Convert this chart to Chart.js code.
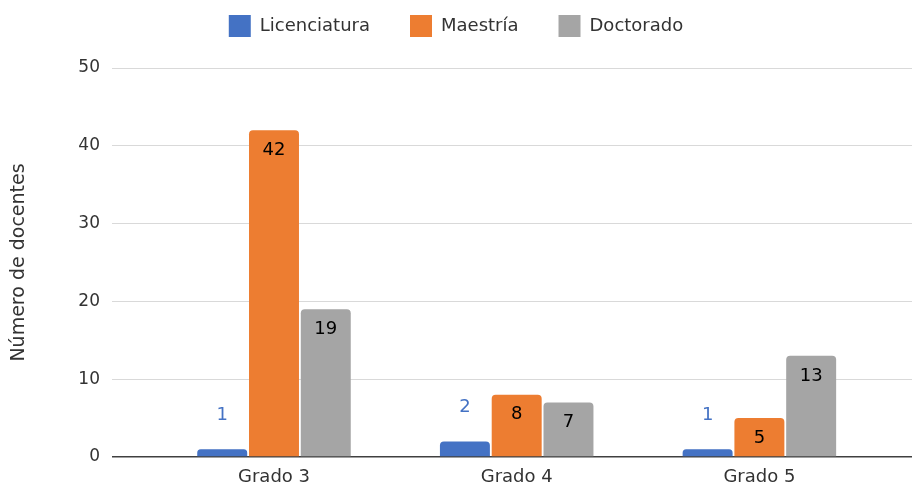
<!DOCTYPE html>
<html lang="es">

<head>
  <meta charset="UTF-8">
  <title>Docentes por grado</title>
  <style>
    body { margin: 0; background: #fff; }
    #contenedor { width: 912px; height: 487px; }
  </style>
</head>

<body>
  <script src="https://cdn.jsdelivr.net/npm/chart.js"></script>

  <div id="contenedor"><canvas id="barChart"></canvas></div>
  <script>
    // datos
    const grados = ['Grado 3', 'Grado 4', 'Grado 5'];
    const licenciatura = [1, 2, 1];
    const maestria = [42, 8, 5];
    const doctorado = [19, 7, 13];
    const ticksY = [0, 10, 20, 30, 40, 50];

    const fuente = "'DejaVu Sans', sans-serif";
    const gris = '#333';

    // eje x lineal: cada grado en 0, 1, 2
    const puntos = arr => arr.map((v, i) => ({ x: i, y: v }));

    // etiquetas de valor sobre/dentro de las barras
    const etiquetas = {
      id: 'etiquetas',
      afterDatasetsDraw(chart) {
        const ctx = chart.ctx;
        ctx.save();
        ctx.font = '18px ' + fuente;
        ctx.textAlign = 'center';
        ctx.textBaseline = 'middle';
        chart.data.datasets.forEach((ds, i) => {
          chart.getDatasetMeta(i).data.forEach((bar, j) => {
            const valor = ds.data[j].y;
            if (i === 0) {
              ctx.fillStyle = '#4472C4';
              ctx.fillText(valor, bar.x, bar.y - 34);
            } else {
              ctx.fillStyle = '#000';
              ctx.fillText(valor, bar.x, bar.y + 20);
            }
          });
        });
        ctx.restore();
      }
    };

    // altura fija de la leyenda para dejar el area del grafico donde va
    const alturaLeyenda = {
      id: 'alturaLeyenda',
      beforeInit(chart) {
        const fit = chart.legend.fit;
        chart.legend.fit = function () {
          fit.call(this);
          this.height = 93;
        };
      }
    };

    const ctx = document.getElementById('barChart').getContext('2d');
    const barChart = new Chart(ctx, {
      type: 'bar',
      data: {
        datasets: [{
          label: 'Licenciatura',
          data: puntos(licenciatura),
          backgroundColor: '#4472C4'
        }, {
          label: 'Maestría',
          data: puntos(maestria),
          backgroundColor: '#ED7D31'
        }, {
          label: 'Doctorado',
          data: puntos(doctorado),
          backgroundColor: '#A5A5A5'
        }]
      },
      options: {
        responsive: true,
        maintainAspectRatio: false,
        animation: false,
        layout: { padding: { top: -25, left: 0, right: 0, bottom: 0 } },
        datasets: {
          bar: {
            categoryPercentage: 0.64,
            barPercentage: 0.965,
            borderRadius: { topLeft: 4, topRight: 4, bottomLeft: 0, bottomRight: 0 },
            borderSkipped: false
          }
        },
        plugins: {
          legend: {
            position: 'top',
            labels: {
              boxWidth: 22,
              boxHeight: 22,
              padding: 40,
              color: gris,
              font: { family: fuente, size: 18 }
            }
          },
          tooltip: { enabled: false }
        },
        scales: {
          x: {
            type: 'linear',
            offset: false,
            min: -0.6345,
            max: 2.6288,
            afterFit: axis => { axis.height = 30; },
            afterBuildTicks: axis => {
              axis.ticks = grados.map((g, i) => ({ value: i }));
            },
            grid: { display: false, drawTicks: false, offset: false },
            border: { display: false },
            ticks: {
              autoSkip: false,
              maxRotation: 0,
              padding: 10,
              color: gris,
              font: { family: fuente, size: 18 },
              callback: value => grados[value]
            }
          },
          y: {
            min: ticksY[0],
            max: ticksY[ticksY.length - 1],
            afterFit: axis => { axis.width = 120; },
            afterBuildTicks: axis => {
              axis.ticks = ticksY.map(v => ({ value: v }));
            },
            grid: {
              color: c => (c.tick && c.tick.value === 0) ? '#404040' : '#d9d9d9',
              lineWidth: c => (c.tick && c.tick.value === 0) ? 1.5 : 1,
              tickLength: 8
            },
            border: { display: false },
            ticks: {
              padding: 12,
              color: gris,
              font: { family: fuente, size: 17 }
            },
            title: {
              display: true,
              text: 'Número de docentes',
              color: gris,
              padding: { top: 8, bottom: 0 },
              font: { family: fuente, size: 19 }
            }
          }
        }
      },
      plugins: [alturaLeyenda, etiquetas]
    });
  </script>
</body>

</html>
